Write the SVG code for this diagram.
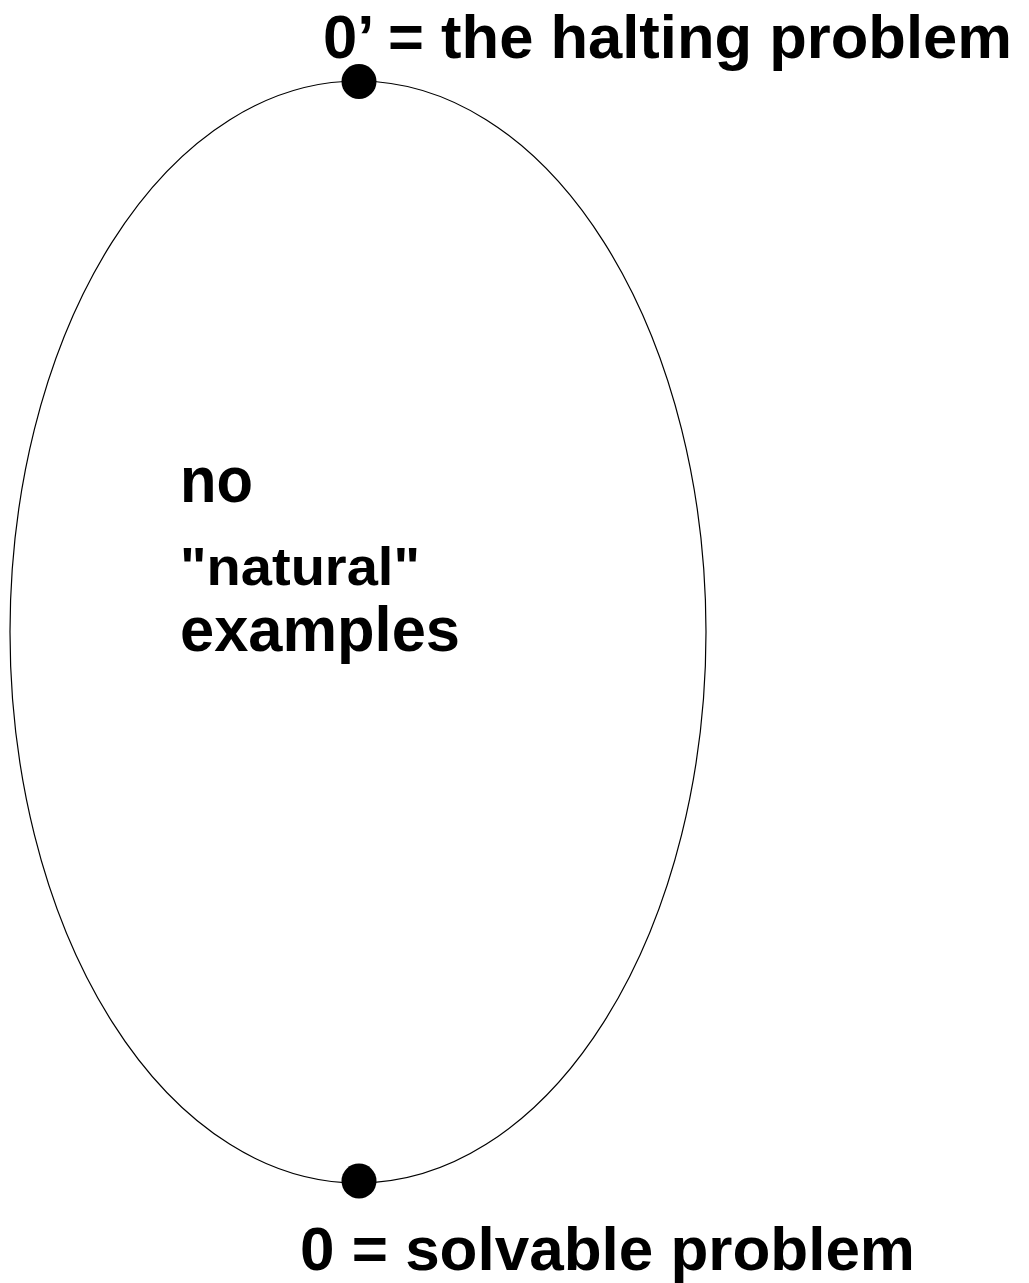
<svg xmlns="http://www.w3.org/2000/svg" width="1029" height="1283" viewBox="0 0 1029 1283">
<style>
.lbl{font-family:"Liberation Sans",Arial,sans-serif;font-weight:bold;fill:#000}
.dot{fill:#000}
</style>
<rect width="1029" height="1283" fill="#fff"/>
<g id="region">
<ellipse cx="358" cy="632" rx="348" ry="551" fill="none" stroke="#000" stroke-width="1.2"/>
<text class="lbl" x="180" y="502" font-size="64" textLength="73" lengthAdjust="spacingAndGlyphs">no</text>
<text class="lbl" x="180" y="585" font-size="54" textLength="240" lengthAdjust="spacingAndGlyphs">"natural"</text>
<text class="lbl" x="180" y="651" font-size="63" textLength="280" lengthAdjust="spacingAndGlyphs">examples</text>
</g>
<g id="top">
<circle class="dot" cx="359" cy="81.5" r="17.5"/>
<text class="lbl" x="323" y="58" font-size="62" textLength="689" lengthAdjust="spacingAndGlyphs">0’ = the halting problem</text>
</g>
<g id="bottom">
<circle class="dot" cx="359" cy="1181" r="17.5"/>
<text class="lbl" x="300" y="1270" font-size="62" textLength="615" lengthAdjust="spacingAndGlyphs">0 = solvable problem</text>
</g>
<g id="connectors"></g>
</svg>
